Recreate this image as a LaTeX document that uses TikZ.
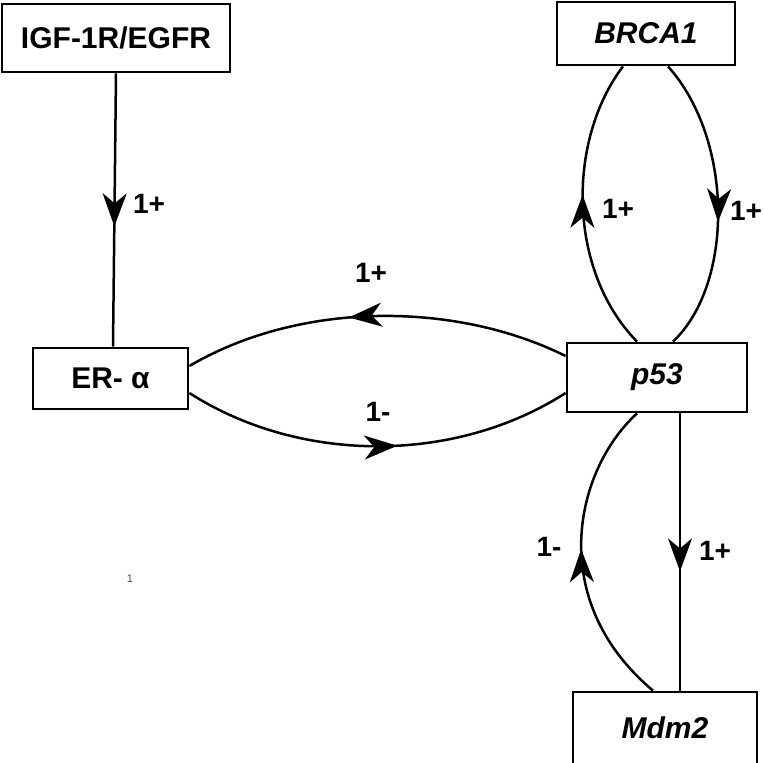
\documentclass[tikz,border=0pt]{standalone}
\usepackage{fontspec}
\setmainfont{Liberation Sans}
\usetikzlibrary{positioning, arrows.meta, decorations.markings}
\tikzstyle{box} = [rectangle, minimum width = 178, minimum height = 63, draw =
  black, line width = 2.8, text centered,
  font = \fontsize{30}{36}\selectfont\bfseries]
\tikzstyle{gene} = [
  box,
  font = \fontsize{30}{36}\selectfont\bfseries\itshape
]
\tikzstyle{link} = [line width = 2.5]
\tikzstyle{sign} = [font = \fontsize{28}{32}\selectfont\bfseries]
\tikzset{arrowat/.style = {postaction = {decorate}, decoration = {markings,
  mark = at position #1 with {\arrow{Stealth[length = 33pt, width = 24pt, inset = 10pt]}}}}}

\begin{document}
\begin{tikzpicture}[node distance = 0, x = 1pt, y = 1pt]
      \useasboundingbox (0, 0) rectangle (764, -763);
      \node [box, minimum width = 228, minimum height = 68] (igf) at (116, -38) {IGF-1R/EGFR};
      \node [box, below of = igf, xshift = -5.5, yshift = -340.5,
        minimum width = 155, minimum height = 61] (er) {ER- α};
      \node [gene, right of = er, xshift = 546.5, yshift = 1,
        minimum width = 180, minimum height = 69] (p53) {p53};
      \node [gene, above of = p53, xshift = -11, yshift = 344] (brca) {BRCA1};
      \node [gene, below of = p53, xshift = 8, yshift = -350.5,
        minimum width = 184, minimum height = 72] (mdm2) {Mdm2};

      \draw [link, arrowat = 0.56] (igf.south) -- ([xshift = 2.5]er.north);
      \draw [link, arrowat = 0.57] ([yshift = 21.5]p53.west)
        .. controls (455, -301) and (300, -301) .. ([yshift = 12.5]er.east);
      \draw [link, arrowat = 0.55] ([yshift = -14.5]er.east)
        .. controls (300, -464) and (455, -464) .. ([yshift = -15.5]p53.west);
      \draw [link, arrowat = 0.54] ([xshift = -20]p53.north)
        .. controls (567, -270) and (567, -140) .. ([xshift = -23]brca.south);
      \draw [link, arrowat = 0.56] ([xshift = 22]brca.south)
        .. controls (734, -140) and (734, -284) .. ([xshift = 16]p53.north);
      \draw [link, arrowat = 0.57] ([xshift = 23]p53.south) -- ([xshift = 15]mdm2.north);
      \draw [link, arrowat = 0.52] ([xshift = -12]mdm2.north)
        .. controls (545, -600) and (575, -470) .. ([xshift = -20]p53.south);

      \node [sign] (s-igf) at (149, -204) {1+};
      \node [sign] (s-up) at (371, -273) {1+};
      \node [sign] (s-low) at (378, -412) {1-};
      \node [sign] (s-brca-l) at (618, -209) {1+};
      \node [sign] (s-brca-r) at (746, -211) {1+};
      \node [sign] (s-mdm-l) at (549, -547) {1-};
      \node [sign] (s-mdm-r) at (715, -551) {1+};
      \node [text = black!70, font = \fontsize{11}{12}\selectfont] (stray) at (130, -579) {1};
    \end{tikzpicture}
\end{document}
